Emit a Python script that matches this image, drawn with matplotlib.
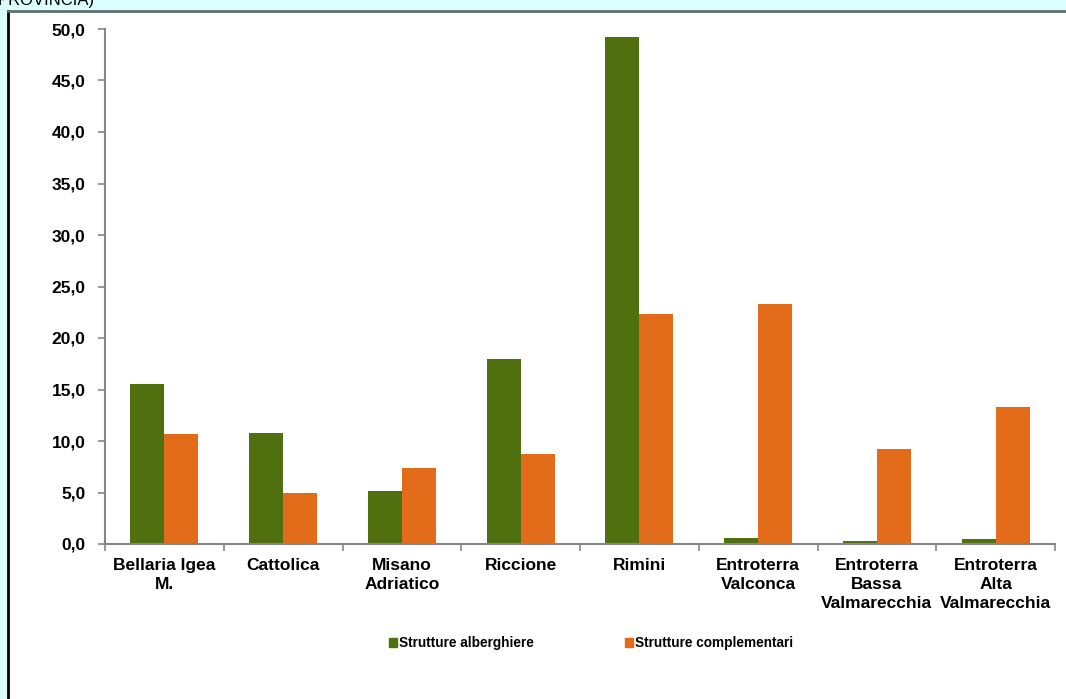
import matplotlib.pyplot as plt
import numpy as np
from matplotlib.patches import Patch, Rectangle
from matplotlib.ticker import FuncFormatter, FixedLocator

plt.rcParams['font.family'] = ['Liberation Sans', 'DejaVu Sans']

comuni = ['Bellaria Igea\nM.', 'Cattolica', 'Misano\nAdriatico', 'Riccione', 'Rimini',
          'Entroterra\nValconca', 'Entroterra\nBassa\nValmarecchia',
          'Entroterra\nAlta\nValmarecchia']
alberghiere = [15.5, 10.8, 5.1, 18.0, 49.2, 0.6, 0.3, 0.5]
complementari = [10.7, 5.0, 7.4, 8.7, 22.3, 23.3, 9.2, 13.3]

verde = '#50700F'
arancio = '#E36C1A'
grigio = '#868686'

fig = plt.figure(figsize=(10.66, 6.99), dpi=100)
fig.patch.set_facecolor('#DBFFFF')

# white panel with dark left/top edges
W, H = 1066, 699
fig.patches.append(Rectangle((8 / W, -0.01), 1.0, 1 - 11 / H + 0.01, transform=fig.transFigure,
                             facecolor='white', edgecolor='none', zorder=-5))
fig.add_artist(plt.Line2D([8 / W, 8 / W], [0, 1 - 11 / H], transform=fig.transFigure,
                          color='black', lw=2))
fig.add_artist(plt.Line2D([8 / W, 1], [1 - 11 / H, 1 - 11 / H], transform=fig.transFigure,
                          color='#5F6F6F', lw=2))
fig.text(-2 / W, 1 - 5 / H, 'PROVINCIA)', fontsize=12, va='baseline', ha='left')

ax = fig.add_axes([105 / W, 1 - 544 / H, 950 / W, 515 / H])
ax.set_facecolor('none')

x = np.arange(len(comuni))
w = 0.286
ax.bar(x - w / 2, alberghiere, w, color=verde, label='Strutture alberghiere')
ax.bar(x + w / 2, complementari, w, color=arancio, label='Strutture complementari')

ax.set_xlim(-0.5, len(comuni) - 0.5)
ax.set_ylim(0, 50)
ax.set_yticks(np.arange(0, 51, 5))
ax.yaxis.set_major_formatter(FuncFormatter(lambda v, p: f'{v:.1f}'.replace('.', ',')))
ax.set_xticks(x)
ax.set_xticklabels(comuni, fontsize=12.5, fontweight='bold', linespacing=1.35)
ax.xaxis.set_minor_locator(FixedLocator(np.arange(-0.5, len(comuni), 1.0)))
ax.tick_params(axis='x', which='major', length=0, pad=10)
ax.tick_params(axis='x', which='minor', length=5, color=grigio, width=1.2)
ax.tick_params(axis='y', length=5, color=grigio, width=1.2, pad=9, labelsize=12.5)
for lab in ax.get_yticklabels():
    lab.set_fontweight('bold')

for s in ['top', 'right']:
    ax.spines[s].set_visible(False)
for s in ['left', 'bottom']:
    ax.spines[s].set_color(grigio)
    ax.spines[s].set_linewidth(1.5)

handles = [Patch(color=verde), Patch(color=arancio)]
fig.legend(handles, ['Strutture alberghiere', 'Strutture complementari'],
           loc='center', bbox_to_anchor=(591 / W, 1 - 643 / H), ncol=2, frameon=False,
           prop={'size': 9.8, 'weight': 'bold'}, handlelength=0.6, handleheight=0.6,
           handletextpad=0.1, columnspacing=6.75)

fig.savefig('out.png', dpi=100, facecolor=fig.get_facecolor())
